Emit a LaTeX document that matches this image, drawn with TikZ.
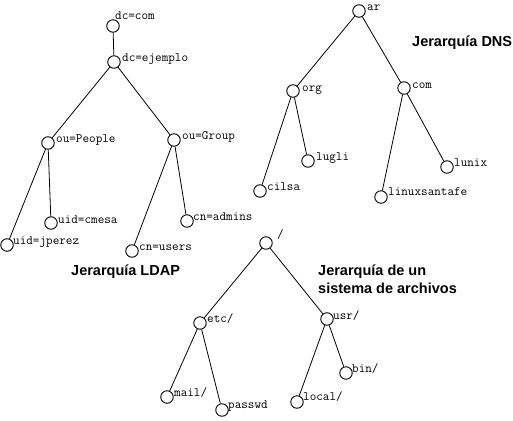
\documentclass[tikz,border=0pt]{standalone}
\usepackage{fontspec}
\setmainfont{Liberation Sans}
\begin{document}
\begin{tikzpicture}[x=1pt,y=-1pt,
  dot/.style={circle,draw,line width=0.9pt,minimum size=12.5pt,inner sep=0pt},
  lbl/.style={anchor=mid west,inner sep=0pt,font=\ttfamily\fontsize{12.8}{14}\selectfont},
  ttl/.style={anchor=base west,inner sep=0pt,font=\bfseries\fontsize{14.5}{18}\selectfont,align=left},
  edge/.style={line width=0.8pt}]
\useasboundingbox (0,0) rectangle (513,420);
% LDAP
\node[dot] (dccom) at (113,26) {};
\node[dot] (dcej) at (114,62) {};
\node[dot] (people) at (48,143) {};
\node[dot] (group) at (174,140) {};
\node[dot] (cmesa) at (51,223) {};
\node[dot] (jperez) at (7,245) {};
\node[dot] (admins) at (187,221) {};
\node[dot] (users) at (132,251) {};
\node[lbl] (ldccom) at (115,17) {dc=com};
\node[lbl] (ldcej) at (122,59) {dc=ejemplo};
\node[lbl] (lpeople) at (56,140) {ou=People};
\node[lbl] (lgroup) at (182,137) {ou=Group};
\node[lbl] (lcmesa) at (58,221) {uid=cmesa};
\node[lbl] (ljperez) at (13,242) {uid=jperez};
\node[lbl] (ladmins) at (193,218) {cn=admins};
\node[lbl] (lusers) at (139,248) {cn=users};
\node[ttl] (tldap) at (71,275) {Jerarquía LDAP};
\draw[edge] (dccom) -- (dcej);
\draw[edge] (dcej) -- (people);
\draw[edge] (dcej) -- (group);
\draw[edge] (people) -- (cmesa);
\draw[edge] (people) -- (jperez);
\draw[edge] (group) -- (admins);
\draw[edge] (group) -- (users);
% DNS
\node[dot] (ar) at (359,11) {};
\node[dot] (org) at (293,91) {};
\node[dot] (com) at (404,88) {};
\node[dot] (lugli) at (308,161) {};
\node[dot] (cilsa) at (260,191) {};
\node[dot] (lunix) at (447,167) {};
\node[dot] (linux) at (381,197) {};
\node[lbl] (lar) at (367,8) {ar};
\node[lbl] (lorg) at (302,89) {org};
\node[lbl] (lcom) at (412,86) {com};
\node[lbl] (llugli) at (316,158) {lugli};
\node[lbl] (lcilsa) at (267,188) {cilsa};
\node[lbl] (llunix) at (454,164) {lunix};
\node[lbl] (llinux) at (388,193) {linuxsantafe};
\node[ttl] (tdns) at (412,47) {Jerarquía DNS};
\draw[edge] (ar) -- (org);
\draw[edge] (ar) -- (com);
\draw[edge] (org) -- (lugli);
\draw[edge] (org) -- (cilsa);
\draw[edge] (com) -- (lunix);
\draw[edge] (com) -- (linux);
% FS
\node[dot] (root) at (266,243) {};
\node[dot] (etc) at (200,323) {};
\node[dot] (usr) at (327,319) {};
\node[dot] (bin) at (346,373) {};
\node[dot] (local) at (297,402) {};
\node[dot] (mail) at (167,397) {};
\node[dot] (passwd) at (222,410) {};
\node[lbl] (lroot) at (277,236) {/};
\node[lbl] (letc) at (207,320) {etc/};
\node[lbl] (lusr) at (333,317) {usr/};
\node[lbl] (lbin) at (352,370) {bin/};
\node[lbl] (llocal) at (303,398) {local/};
\node[lbl] (lmail) at (174,394) {mail/};
\node[lbl] (lpasswd) at (228,406) {passwd};
\node[ttl] (tfs1) at (318,275) {Jerarquía de un};
\node[ttl] (tfs2) at (318,293) {sistema de archivos};
\draw[edge] (root) -- (etc);
\draw[edge] (root) -- (usr);
\draw[edge] (etc) -- (mail);
\draw[edge] (etc) -- (passwd);
\draw[edge] (usr) -- (bin);
\draw[edge] (usr) -- (local);
\end{tikzpicture}
\end{document}
